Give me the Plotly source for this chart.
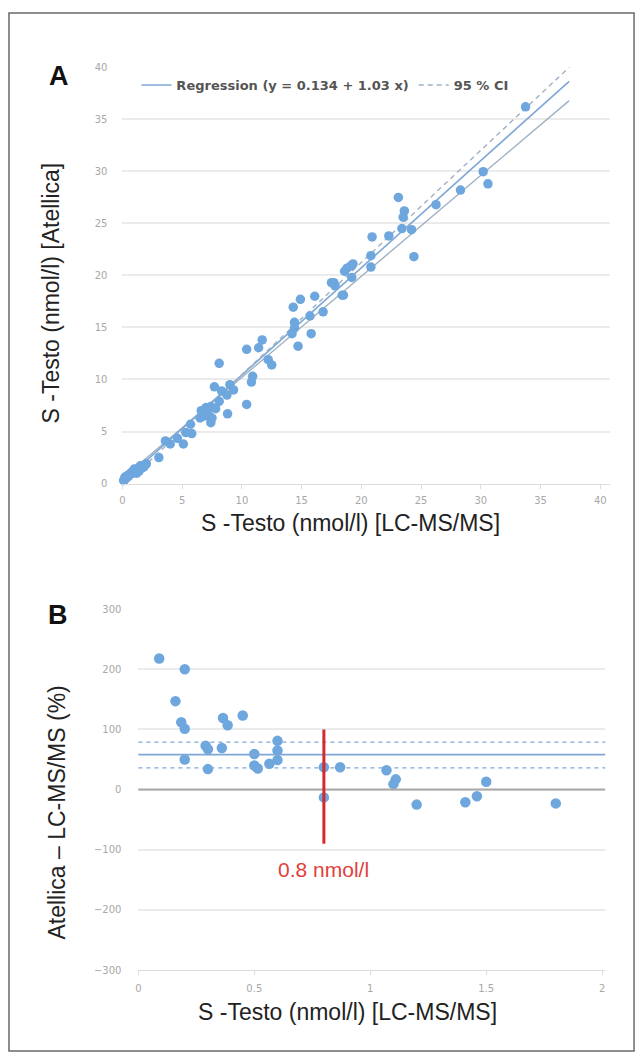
import plotly.graph_objects as go

W, H = 642, 1064

# ---------------- Panel A data (LC-MS/MS vs Atellica, nmol/l) ----------------
a_x = [33.75, 30.2, 30.6, 28.3, 26.25, 23.1, 23.6, 23.5, 23.4, 24.2, 24.4, 22.3, 20.9, 20.8, 20.8,
       19.3, 18.8, 19.2, 17.7, 18.5, 19.1, 18.6, 17.5, 17.8, 18.4, 14.9, 14.3, 16.1, 16.8, 15.7,
       14.4, 14.4, 14.2, 15.8, 14.7, 11.7, 11.4, 10.4, 12.2, 12.5, 8.1, 10.9, 10.8, 10.4, 9.0,
       7.7, 8.1, 8.75, 8.3, 8.8, 7.4, 7.1, 6.7, 6.9, 7.5, 7.4, 6.5, 5.7, 5.8, 5.3,
       5.1, 4.6, 4.0, 3.6, 3.05, 1.67, 1.25, 0.83, 0.42, 0.14, 7.0, 6.6, 7.2, 7.8, 9.3,
       0.1, 0.2, 0.3, 0.4, 0.5, 0.6, 0.7, 0.8, 0.9, 1.0, 1.1, 1.2, 1.4, 1.5, 1.8, 2.0, 0.55, 1.6]
a_y = [36.2, 29.97, 28.8, 28.2, 26.8, 27.5, 26.2, 25.6, 24.5, 24.4, 21.8, 23.8, 23.7, 21.9, 20.8,
       21.1, 20.7, 19.8, 19.3, 18.1, 20.9, 20.4, 19.3, 19.0, 18.1, 17.7, 16.95, 18.0, 16.5, 16.1,
       15.5, 14.95, 14.4, 14.4, 13.2, 13.8, 13.05, 12.9, 11.9, 11.4, 11.55, 10.3, 9.75, 7.6, 9.5,
       9.3, 7.9, 8.5, 8.9, 6.7, 7.4, 7.0, 6.8, 6.5, 6.3, 5.85, 6.3, 5.7, 4.8, 4.9,
       3.8, 4.35, 3.8, 4.1, 2.5, 1.55, 1.4, 1.08, 0.76, 0.29, 7.3, 7.0, 6.6, 7.2, 9.0,
       0.3, 0.6, 0.5, 0.7, 0.7, 0.9, 1.0, 1.1, 1.0, 1.4, 1.3, 1.0, 1.2, 1.7, 1.6, 1.9, 0.8, 1.5]

reg_intercept = 0.134
reg_slope = 1.03
line_x = [0.0, 37.4]
ci_upper_y = [-0.3, 40.0]
ci_lower_y = [0.5, 36.8]

# ---------------- Panel B data (difference %, low concentrations) ----------------
b_x = [0.09, 0.2, 0.16, 0.185, 0.2, 0.2, 0.29, 0.3, 0.3, 0.36, 0.365, 0.385, 0.45, 0.5, 0.5,
       0.515, 0.565, 0.6, 0.6, 0.6, 0.8, 0.8, 0.87, 1.07, 1.11, 1.1, 1.2, 1.41, 1.46, 1.5, 1.8]
b_y = [218, 200, 147, 112, 101, 50, 73, 67, 34, 69, 119, 107, 123, 59, 40,
       35, 43, 81, 65, 49, 37, -13, 37, 32, 17, 9, -25, -21, -11, 13, -23]

mean_bias = 58
loa_upper = 79
loa_lower = 36
cutoff_x = 0.8
cutoff_y = [-90, 100]
cutoff_label = "0.8 nmol/l"

a_ticks = [0, 5, 10, 15, 20, 25, 30, 35, 40]
b_xticks = [0, 0.5, 1, 1.5, 2]
b_xticklabels = ["0", "0.5", "1", "1.5", "2"]
b_yticks = [-300, -200, -100, 0, 100, 200, 300]

# ---------------- styles ----------------
PT = "#6ea6de"
REG = "#7fa7d6"
CI = "#9fb1c4"
GRID = "#ebebeb"
TICKF = dict(family="DejaVu Sans", size=10, color="#a8a8a8")
TITLEF = dict(family="Liberation Sans", size=23, color="#222222")


def px(x):
    return x / W


def py(y):
    return 1 - y / H


fig = go.Figure()

fig.add_trace(go.Scatter(x=line_x, y=ci_lower_y, mode="lines", line=dict(color=CI, width=1.4),
                         showlegend=False, xaxis="x", yaxis="y", hoverinfo="skip"))
fig.add_trace(go.Scatter(x=line_x, y=[reg_intercept + reg_slope * v for v in line_x], mode="lines",
                         line=dict(color=REG, width=1.6),
                         name="<b>Regression (y = 0.134 + 1.03 x)</b>", xaxis="x", yaxis="y"))
fig.add_trace(go.Scatter(x=line_x, y=ci_upper_y, mode="lines",
                         line=dict(color=CI, width=1.4, dash="5px,4px"),
                         name="<b>95 % CI</b>", xaxis="x", yaxis="y"))
fig.add_trace(go.Scatter(x=a_x, y=a_y, mode="markers", marker=dict(color=PT, size=9.5),
                         showlegend=False, xaxis="x", yaxis="y", cliponaxis=False))

fig.add_trace(go.Scatter(x=b_x, y=b_y, mode="markers", marker=dict(color=PT, size=10.5),
                         showlegend=False, xaxis="x2", yaxis="y2"))

shapes = [
    dict(type="line", xref="x2 domain", yref="y2", x0=0, x1=1, y0=0, y1=0,
         line=dict(color="#a8a8a8", width=2)),
    dict(type="line", xref="x2 domain", yref="y2", x0=0, x1=1, y0=mean_bias, y1=mean_bias,
         line=dict(color=REG, width=1.8)),
    dict(type="line", xref="x2 domain", yref="y2", x0=0, x1=1, y0=loa_upper, y1=loa_upper,
         line=dict(color=REG, width=1.3, dash="4px,4px")),
    dict(type="line", xref="x2 domain", yref="y2", x0=0, x1=1, y0=loa_lower, y1=loa_lower,
         line=dict(color=REG, width=1.3, dash="4px,4px")),
    dict(type="line", xref="x2", yref="y2", x0=cutoff_x, x1=cutoff_x, y0=cutoff_y[0], y1=cutoff_y[1],
         line=dict(color="#d42a2a", width=3)),
    dict(type="rect", xref="paper", yref="paper", x0=px(6), x1=px(634), y0=py(1057), y1=py(7),
         line=dict(color="#6a6a6a", width=1.5), layer="above"),
]


def ann(text, x, y, font, angle=0, xref="paper", yref="paper"):
    return dict(text=text, x=x, y=y, xref=xref, yref=yref, showarrow=False, textangle=angle,
                xanchor="center", yanchor="middle", font=font)


LBLF = dict(family="Liberation Sans", size=27, color="#111")
annotations = [
    ann("<b>A</b>", px(56), py(71), LBLF),
    ann("<b>B</b>", px(55), py(616), LBLF),
    ann("S -Testo (nmol/l) [Atellica]", px(48), py(290), TITLEF, angle=-90),
    ann("S -Testo (nmol/l) [LC-MS/MS]", px(349), py(523), TITLEF),
    ann("Atellica – LC-MS/MS (%)", px(54), py(816), TITLEF, angle=-90),
    ann("S -Testo (nmol/l) [LC-MS/MS]", px(346), py(1017), TITLEF),
    ann(cutoff_label, cutoff_x, -133, dict(family="Liberation Sans", size=21, color="#e2403c"),
        xref="x2", yref="y2"),
]

axis_common = dict(showline=True, linecolor="#dcdcdc", linewidth=1, zeroline=False, tickfont=TICKF)

fig.update_layout(
    width=W, height=H,
    margin=dict(l=0, r=0, t=0, b=0),
    paper_bgcolor="white", plot_bgcolor="white",
    showlegend=True,
    legend=dict(orientation="h", x=px(134), y=py(80), xanchor="left", yanchor="middle",
                font=dict(family="DejaVu Sans", size=13, color="#555555"),
                bgcolor="rgba(0,0,0,0)", itemwidth=30, tracegroupgap=0),
    xaxis=dict(domain=[px(120), px(610)], range=[0, 40.83], anchor="y", tickvals=a_ticks,
               showgrid=False, ticks="outside", ticklen=4, tickcolor="#dcdcdc",
               ticklabelstandoff=3, **axis_common),
    yaxis=dict(domain=[py(483), py(62)], range=[0, 40], anchor="x", tickvals=a_ticks,
               showgrid=True, gridcolor=GRID, gridwidth=1.5, showline=False, zeroline=False,
               tickfont=TICKF, ticks="", ticklabelstandoff=14),
    xaxis2=dict(domain=[px(136), px(605)], range=[0, 2.013], anchor="y2", tickvals=b_xticks,
                ticktext=b_xticklabels, showgrid=False, ticks="outside", ticklen=4, tickcolor="#dcdcdc",
                ticklabelstandoff=5, **axis_common),
    yaxis2=dict(domain=[py(975), py(610)], range=[-300, 300], anchor="x2", tickvals=b_yticks,
                showgrid=True, gridcolor=GRID, gridwidth=1.5, showline=False, zeroline=False,
                tickfont=TICKF, ticks="", ticklabelstandoff=16),
    shapes=shapes,
    annotations=annotations,
)

fig.write_html("out.html", config={"displayModeBar": False},
               post_script="document.body.style.margin='0';document.body.style.overflow='hidden';")
